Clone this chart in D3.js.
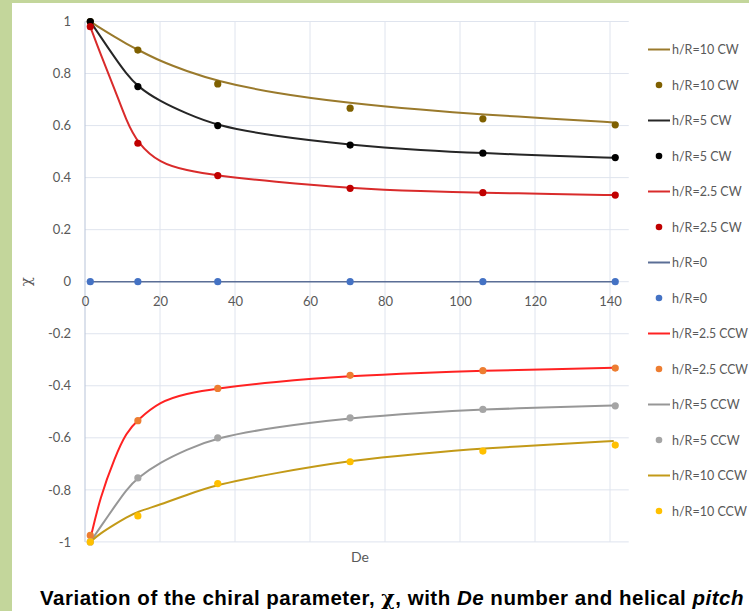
<!DOCTYPE html>
<html><head><meta charset="utf-8">
<script src="https://cdn.jsdelivr.net/npm/d3@7"></script>
<style>
html,body{margin:0;padding:0;background:#c3d69b;}
svg{display:block;}
</style></head>
<body>
<svg id="chart" width="749" height="611"></svg>
<script>
// ---- data ----
const deValues = [1.41, 14.1, 35.4, 70.7, 106.1, 141.4];
const pts10CW  = [1.0, 0.89, 0.76, 0.667, 0.626, 0.603];
const pts5CW   = [1.0, 0.75, 0.60, 0.525, 0.494, 0.477];
const pts25CW  = [0.98, 0.532, 0.408, 0.359, 0.342, 0.333];
const pts0     = [0, 0, 0, 0, 0, 0];
const pts25CCW = [-0.975, -0.534, -0.41, -0.36, -0.342, -0.332];
const pts5CCW  = [-1.0, -0.754, -0.60, -0.523, -0.491, -0.477];
const pts10CCW = [-1.0, -0.90, -0.776, -0.692, -0.651, -0.628];

// trend-line readings
const lineDe     = [1.41, 4, 8, 11, 14, 20, 27, 35, 50, 71, 90, 106, 125, 141];
const line10CW   = [1.0, 0.975, 0.94, 0.915, 0.892, 0.848, 0.81, 0.772, 0.725, 0.685, 0.66, 0.643, 0.626, 0.612];
const line5CW    = [1.0, 0.945, 0.86, 0.8, 0.75, 0.693, 0.647, 0.6, 0.56, 0.525, 0.505, 0.494, 0.484, 0.476];
const line25CW   = [0.98, 0.88, 0.737, 0.62, 0.532, 0.455, 0.428, 0.408, 0.384, 0.359, 0.347, 0.342, 0.337, 0.333];
const line0      = [0, 0, 0, 0, 0, 0, 0, 0, 0, 0, 0, 0, 0, 0];
const line25CCW  = [-0.99, -0.83, -0.673, -0.58, -0.532, -0.46, -0.43, -0.41, -0.385, -0.362, -0.35, -0.342, -0.336, -0.331];
const line5CCW   = [-1.0, -0.945, -0.862, -0.8, -0.754, -0.695, -0.646, -0.6, -0.56, -0.523, -0.503, -0.491, -0.482, -0.476];
const line10CCW  = [-1.0, -0.968, -0.932, -0.906, -0.884, -0.857, -0.82, -0.78, -0.737, -0.686, -0.66, -0.641, -0.625, -0.612];

const xTicks = [0, 20, 40, 60, 80, 100, 120, 140];
const yTicks = [1, 0.8, 0.6, 0.4, 0.2, 0, -0.2, -0.4, -0.6, -0.8, -1];
const yTickLabels = ["1","0.8","0.6","0.4","0.2","0","-0.2","-0.4","-0.6","-0.8","-1"];

const legendLabels = ["h/R=10 CW","h/R=10 CW","h/R=5 CW","h/R=5 CW","h/R=2.5 CW","h/R=2.5 CW","h/R=0","h/R=0",
  "h/R=2.5 CCW","h/R=2.5 CCW","h/R=5 CCW","h/R=5 CCW","h/R=10 CCW","h/R=10 CCW"];

const series = [
  {name:"h/R=10 CW",  line:line10CW,  pts:pts10CW,  lc:"#9a7a2c", pc:"#7f6000"},
  {name:"h/R=5 CW",   line:line5CW,   pts:pts5CW,   lc:"#262626", pc:"#000000"},
  {name:"h/R=2.5 CW", line:line25CW,  pts:pts25CW,  lc:"#d92b2b", pc:"#c00000"},
  {name:"h/R=0",      line:line0,     pts:pts0,     lc:"#5b6e96", pc:"#4472c4"},
  {name:"h/R=2.5 CCW",line:line25CCW, pts:pts25CCW, lc:"#ff2222", pc:"#ed7d31"},
  {name:"h/R=5 CCW",  line:line5CCW,  pts:pts5CCW,  lc:"#979797", pc:"#a5a5a5"},
  {name:"h/R=10 CCW", line:line10CCW, pts:pts10CCW, lc:"#c39a18", pc:"#ffc000"}
];

// ---- layout ----
const svg = d3.select("#chart");
svg.append("rect").attr("x",12).attr("y",3).attr("width",737).attr("height",608).attr("fill","#ffffff");

const x = d3.scaleLinear().domain([0,145]).range([85,628.75]);
const y = d3.scaleLinear().domain([-1,1]).range([541.9,21.5]);
const font = "Lato, 'Open Sans', sans-serif";

// grid
const grid = svg.append("g");
grid.selectAll("line.h").data(yTicks).enter().append("line")
  .attr("x1",x(0)).attr("x2",x(145)).attr("y1",d=>y(d)).attr("y2",d=>y(d))
  .attr("stroke","#dfe4ee").attr("stroke-width",1);
grid.selectAll("line.v").data(xTicks.slice(1)).enter().append("line")
  .attr("x1",d=>x(d)).attr("x2",d=>x(d)).attr("y1",y(1)).attr("y2",y(-1))
  .attr("stroke","#dfe4ee").attr("stroke-width",1);
svg.append("line").attr("x1",x(0)).attr("x2",x(0)).attr("y1",y(1)).attr("y2",y(-1))
  .attr("stroke","#b7c3d8").attr("stroke-width",1);

const yAxis = d3.axisLeft(y).tickValues(yTicks).tickFormat((d,i)=>yTickLabels[i]).tickSize(0).tickPadding(14);
const gy = svg.append("g").attr("transform",`translate(${x(0)},0)`).call(yAxis);
gy.select(".domain").remove();
gy.selectAll("text").attr("fill","#595959").style("font-family",font).style("font-size","13px");

const xAxis = d3.axisBottom(x).tickValues(xTicks).tickSize(0).tickPadding(15);
const gx = svg.append("g").attr("transform",`translate(0,${y(0)})`).call(xAxis);
gx.select(".domain").remove();
gx.selectAll("text").attr("fill","#595959").style("font-family",font).style("font-size","13px");

// lines
const lineGen = d3.line().x((d,i)=>x(lineDe[i])).y(d=>y(d)).curve(d3.curveBasis);
series.forEach(s=>{
  svg.append("path").datum(s.line).attr("d",lineGen).attr("fill","none")
    .attr("stroke",s.lc).attr("stroke-width",s.name==="h/R=0"?1.6:2);
});
series.forEach(s=>{
  svg.append("g").selectAll("circle").data(s.pts).enter().append("circle")
    .attr("cx",(d,i)=>x(deValues[i])).attr("cy",d=>y(d)).attr("r",3.6).attr("fill",s.pc);
});

// axis titles
svg.append("text").attr("x",(x(0)+x(145))/2+3).attr("y",562).attr("text-anchor","middle")
  .attr("fill","#595959").style("font-family",font).style("font-size","14px").text("De");
svg.append("text").attr("transform",`translate(31,${y(0)}) rotate(-90)`).attr("text-anchor","middle")
  .attr("fill","#595959").style("font-family","'DejaVu Serif', serif").style("font-size","15px").text("χ");

// legend
const lg = svg.append("g");
legendLabels.forEach((lab,i)=>{
  const s = series[Math.floor(i/2)];
  const cy = 49.5 + i*35.5;
  if(i%2===0){
    lg.append("line").attr("x1",648).attr("x2",670).attr("y1",cy).attr("y2",cy)
      .attr("stroke",s.lc).attr("stroke-width",2);
  } else {
    lg.append("circle").attr("cx",659).attr("cy",cy).attr("r",3.3).attr("fill",s.pc);
  }
  const t = lg.append("text").attr("x",672).attr("y",cy+4.5).attr("fill","#595959")
    .style("font-family",font).style("font-size","12.5px").text(lab);
  const w = t.node().getComputedTextLength();
  if (672 + w > 748) t.attr("textLength", 748-672).attr("lengthAdjust","spacingAndGlyphs");
});

// caption
const cap = svg.append("text").attr("x",40).attr("y",605).attr("fill","#000")
  .style("font-family","'Liberation Sans', Arial, sans-serif").style("font-size","20.5px").style("font-weight","bold");
cap.append("tspan").text("Variation of  the chiral parameter, ");
cap.append("tspan").style("font-family","'DejaVu Serif', serif").text("χ");
cap.append("tspan").text(", with ");
cap.append("tspan").style("font-style","italic").text("De");
cap.append("tspan").text(" number and helical ");
cap.append("tspan").style("font-style","italic").text("pitch");
const cw = cap.node().getComputedTextLength();
const nChars = cap.text().length;
const targetW = 704;
if (nChars > 1) cap.style("letter-spacing", ((targetW - cw)/(nChars-1)) + "px");
</script>
</body></html>
